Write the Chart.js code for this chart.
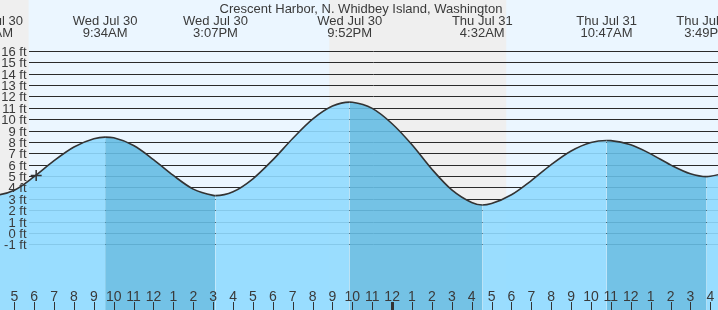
<!DOCTYPE html>
<html><head><meta charset="utf-8">
<script src="https://cdn.jsdelivr.net/npm/chart.js@4/dist/chart.umd.min.js"></script>
<style>html,body{margin:0;padding:0;overflow:hidden;background:#fff}#wrap{width:718px;height:310px;position:relative}</style>
</head><body><div id="wrap"><canvas id="c" width="718" height="310"></canvas></div>
<script>
// ---- data (hours since midnight Wed Jul 30) ----
const chartTitle = 'Crescent Harbor, N. Whidbey Island, Washington';
const tideHours = [3.8, 4, 5, 6, 7, 8, 9, 9.567, 10, 11, 12, 13, 14, 15, 15.117, 16, 17, 18, 19, 20, 21, 21.867, 22, 23, 24, 25, 26, 27, 28, 28.533, 29, 30, 31, 32, 33, 34, 34.783, 35, 36, 37, 38, 39, 39.817, 40, 41];
const tideFeet = [3.30, 3.31, 3.75, 4.95, 6.35, 7.55, 8.28, 8.42, 8.36, 7.68, 6.45, 5.05, 3.85, 3.30, 3.28, 3.62, 4.76, 6.42, 8.30, 10.0, 11.15, 11.5, 11.49, 10.95, 9.6, 7.75, 5.6, 3.78, 2.68, 2.45, 2.58, 3.35, 4.6, 6.0, 7.2, 7.95, 8.12, 8.11, 7.75, 6.95, 5.98, 5.2, 4.95, 4.98, 5.35];
const extremeHours = [3.81, 9.567, 15.117, 21.867, 28.533, 34.783, 39.817];
const extremeDays = ['Wed Jul 30', 'Wed Jul 30', 'Wed Jul 30', 'Wed Jul 30', 'Thu Jul 31', 'Thu Jul 31', 'Thu Jul 31'];
const extremeTimes = ['3:48AM', '9:34AM', '3:07PM', '9:52PM', '4:32AM', '10:47AM', '3:49PM'];
const feetTicks = [-1, 0, 1, 2, 3, 4, 5, 6, 7, 8, 9, 10, 11, 12, 13, 14, 15, 16];
const feetLabels = ['-1 ft', '0 ft', '1 ft', '2 ft', '3 ft', '4 ft', '5 ft', '6 ft', '7 ft', '8 ft', '9 ft', '10 ft', '11 ft', '12 ft', '13 ft', '14 ft', '15 ft', '16 ft'];
const hourTicks = [4, 5, 6, 7, 8, 9, 10, 11, 12, 13, 14, 15, 16, 17, 18, 19, 20, 21, 22, 23, 24, 25, 26, 27, 28, 29, 30, 31, 32, 33, 34, 35, 36, 37, 38, 39, 40, 41];
const hourLabels = ['4', '5', '6', '7', '8', '9', '10', '11', '12', '1', '2', '3', '4', '5', '6', '7', '8', '9', '10', '11', '12', '1', '2', '3', '4', '5', '6', '7', '8', '9', '10', '11', '12', '1', '2', '3', '4', '5'];
const midnightHours = [24];
const daylightStart = [5.72, 29.74];
const daylightEnd = [20.84, 44];
const nowHour = [6.1];
const nowFeet = [5.05];

const COL = {
  night: '#efefef', day: '#ebf6ff',
  riseFill: 'rgba(144,218,255,0.9)', fallFill: 'rgba(102,188,227,0.9)',
  line: '#333333', grid: '#2a2a2a', text: '#3a3a3a'
};
const FONT = '13px "Liberation Sans", Arial, sans-serif';
const NARROW = '14px "Liberation Sans Narrow", "Arial Narrow", "Liberation Sans", sans-serif';

const tidePts = tideHours.map((h, i) => ({x: h, y: tideFeet[i]}));
const nowPts = nowHour.map((h, i) => ({x: h, y: nowFeet[i]}));
const falling = ctx => ctx.p0.parsed.y > ctx.p1.parsed.y;

const decor = {
  id: 'decor',
  beforeDraw(chart) {
    const {ctx, scales: {x}} = chart;
    ctx.save();
    ctx.fillStyle = COL.night;
    ctx.fillRect(0, 0, chart.width, chart.height);
    ctx.fillStyle = COL.day;
    daylightStart.forEach((s, i) => {
      const x0 = x.getPixelForValue(s), x1 = x.getPixelForValue(daylightEnd[i]);
      ctx.fillRect(x0, 0, x1 - x0, chart.height);
    });
    ctx.restore();
  },
  beforeDatasetsDraw(chart) {
    const {ctx, scales: {y}, chartArea: a} = chart;
    ctx.save();
    ctx.strokeStyle = COL.grid; ctx.lineWidth = 1;
    feetTicks.forEach(v => {
      const py = Math.round(y.getPixelForValue(v)) + 0.5;
      ctx.beginPath(); ctx.moveTo(29, py); ctx.lineTo(a.right, py); ctx.stroke();
    });
    ctx.restore();
  },
  afterDatasetsDraw(chart) {
    const {ctx, scales: {x, y}, chartArea: a} = chart;
    ctx.save();
    ctx.fillStyle = COL.text;
    ctx.font = FONT; ctx.textAlign = 'right'; ctx.textBaseline = 'alphabetic';
    feetTicks.forEach((v, i) => {
      const py = Math.round(y.getPixelForValue(v));
      ctx.fillText(feetLabels[i], 26.5, py + 5);
    });
    ctx.textAlign = 'center';
    extremeHours.forEach((h, i) => {
      const px = x.getPixelForValue(h);
      ctx.fillText(extremeDays[i], px, 24.5);
      ctx.fillText(extremeTimes[i], px, 37);
    });
    ctx.fillText(chartTitle, (a.left + a.right) / 2 + 2, 12.5);
    ctx.strokeStyle = COL.line; ctx.lineWidth = 1;
    hourTicks.forEach(h => {
      const px = Math.round(x.getPixelForValue(h)) + 0.5;
      ctx.beginPath(); ctx.moveTo(px, 302); ctx.lineTo(px, 310); ctx.stroke();
    });
    ctx.lineWidth = 3;
    midnightHours.forEach(h => {
      const px = Math.round(x.getPixelForValue(h)) + 0.5;
      ctx.beginPath(); ctx.moveTo(px, 302); ctx.lineTo(px, 310); ctx.stroke();
    });
    ctx.font = NARROW; ctx.textAlign = 'center';
    hourTicks.forEach((h, i) => {
      ctx.fillText(hourLabels[i], x.getPixelForValue(h), 300.5);
    });
    ctx.restore();
  }
};

new Chart(document.getElementById('c'), {
  type: 'line',
  data: {
    datasets: [
      {
        data: nowPts, type: 'scatter', order: 0, showLine: false,
        pointStyle: 'cross', pointRadius: 5.5, borderColor: COL.line, borderWidth: 1.5,
        backgroundColor: COL.line
      },
      {
        data: tidePts, order: 1, fill: 'start', pointRadius: 0,
        borderColor: COL.line, borderWidth: 1.6, cubicInterpolationMode: 'monotone',
        backgroundColor: COL.riseFill,
        segment: {
          backgroundColor: ctx => falling(ctx) ? COL.fallFill : COL.riseFill
        }
      }
    ]
  },
  options: {
    responsive: false, animation: false, events: [],
    layout: {padding: 0, autoPadding: false},
    scales: {
      x: {type: 'linear', min: 4.281, max: 40.387, display: false},
      y: {min: -6.78, max: 20.48, display: false}
    },
    plugins: {legend: {display: false}, tooltip: {enabled: false}, title: {display: false}}
  },
  plugins: [decor]
});
</script>
</body></html>
